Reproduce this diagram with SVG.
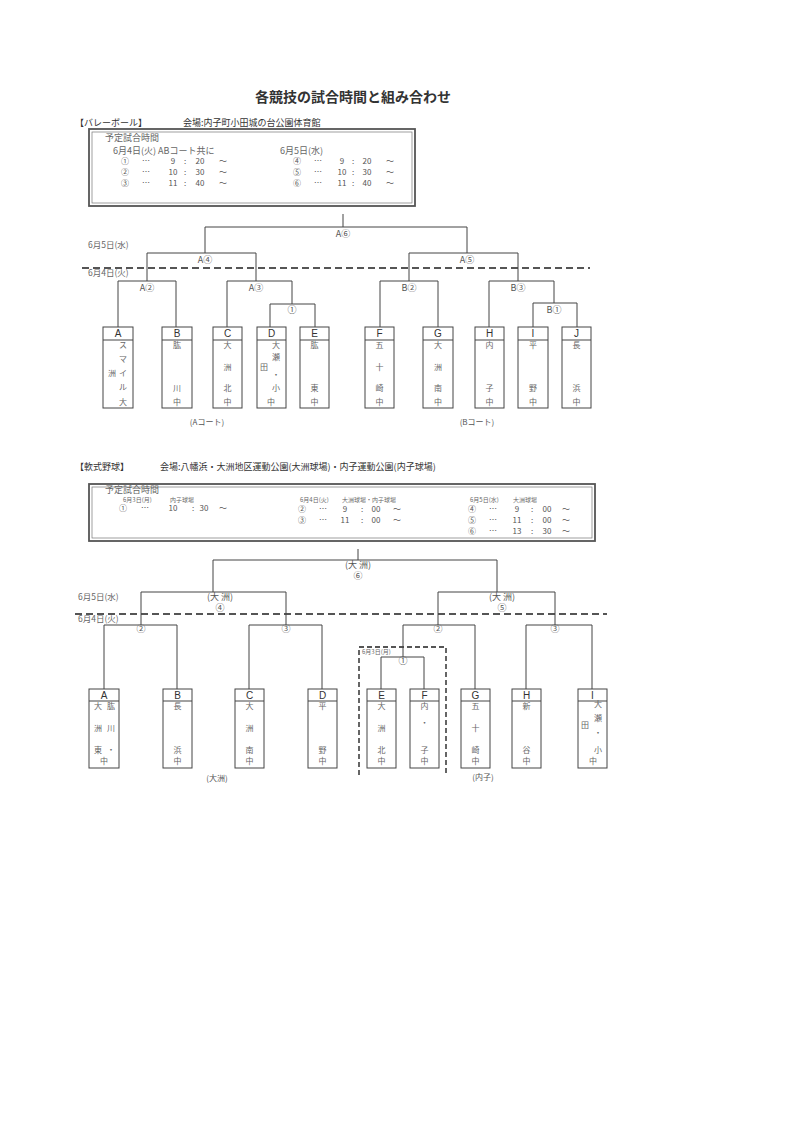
<svg xmlns="http://www.w3.org/2000/svg" width="800" height="1131" viewBox="0 0 800 1131">
<style>
text{font-family:"Noto Sans CJK JP","Noto Sans",sans-serif;fill:#555}
.title{font-size:14px;font-weight:bold;fill:#333}
.hd{font-size:9px;fill:#333}
.sc{font-size:9px;fill:#666}
.nm{font-size:8px;fill:#666}
.sm{font-size:6px;fill:#666}
.lb{font-size:9px;fill:#555;text-anchor:middle}
.dt{font-size:8.5px;fill:#666}
.bx{fill:#fff;stroke:#444;stroke-width:1}
.ltr{font-family:"Liberation Sans",sans-serif;font-size:10px;fill:#333;text-anchor:middle}
.tt{font-size:8px;fill:#666;text-anchor:middle}
.ln{fill:none;stroke:#444;stroke-width:1}
.dash{fill:none;stroke:#555;stroke-width:2;stroke-dasharray:7 4}
.dash2{fill:none;stroke:#555;stroke-width:1.8;stroke-dasharray:5 3}
.frame{fill:none;stroke:#555;stroke-width:1.8}
.frame2{fill:none;stroke:#777;stroke-width:0.7}
</style>
<rect width="800" height="1131" fill="#fff"/>
<text class="title" x="353" y="102" text-anchor="middle">各競技の試合時間と組み合わせ</text>

<!-- Volleyball header -->
<g id="vb-header">
<text class="hd" x="75" y="126">【バレーボール】</text>
<text class="hd" x="183" y="126">会場:内子町小田城の台公園体育館</text>
</g>
<g id="vb-schedule">
<rect class="frame" x="89" y="129" width="326" height="77"/>
<rect class="frame2" x="92" y="132" width="320" height="71"/>
<text class="sc" x="105" y="141">予定試合時間</text>
<text class="sc" x="113" y="154">6月4日(火) ABコート共に</text>
<text class="sc" x="280" y="154">6月5日(水)</text>
<g class="nm" text-anchor="middle">
<text x="125" y="164">①</text><text x="146" y="164">…</text><text x="173" y="164">9</text><text x="185" y="164">:</text><text x="200" y="164">20</text><text x="223" y="164">～</text>
<text x="125" y="175">②</text><text x="146" y="175">…</text><text x="173" y="175">10</text><text x="185" y="175">:</text><text x="200" y="175">30</text><text x="223" y="175">～</text>
<text x="125" y="186">③</text><text x="146" y="186">…</text><text x="173" y="186">11</text><text x="185" y="186">:</text><text x="200" y="186">40</text><text x="223" y="186">～</text>
<text x="297" y="164">④</text><text x="318" y="164">…</text><text x="342" y="164">9</text><text x="353" y="164">:</text><text x="367" y="164">20</text><text x="390" y="164">～</text>
<text x="297" y="175">⑤</text><text x="318" y="175">…</text><text x="342" y="175">10</text><text x="353" y="175">:</text><text x="367" y="175">30</text><text x="390" y="175">～</text>
<text x="297" y="186">⑥</text><text x="318" y="186">…</text><text x="342" y="186">11</text><text x="353" y="186">:</text><text x="367" y="186">40</text><text x="390" y="186">～</text>
</g>
</g>

<g id="vb-dates">
<text class="dt" x="88" y="248">6月5日(水)</text>
<text class="dt" x="88" y="276">6月4日(火)</text>
<line class="dash" x1="82" y1="268" x2="590" y2="268"/>
</g>

<g id="vb-connectors">
<path class="ln" d="M343,214V227"/>
<path class="ln" d="M205,253V227H467V253"/>
<path class="ln" d="M147,281V253H256V281"/>
<path class="ln" d="M118,327V281H176V327"/>
<path class="ln" d="M227,327V281H292V304"/>
<path class="ln" d="M270,327V304H315V327"/>
<path class="ln" d="M409,281V253H518V281"/>
<path class="ln" d="M380,327V281H438V327"/>
<path class="ln" d="M489,327V281H554V303"/>
<path class="ln" d="M533,327V303H577V327"/>
</g>
<g id="vb-labels">
<text class="lb" x="343" y="237">A⑥</text>
<text class="lb" x="205" y="263">A④</text>
<text class="lb" x="467" y="263">A⑤</text>
<text class="lb" x="147" y="291">A②</text>
<text class="lb" x="256" y="291">A③</text>
<text class="lb" x="292" y="313">①</text>
<text class="lb" x="409" y="291">B②</text>
<text class="lb" x="518" y="291">B③</text>
<text class="lb" x="554" y="313">B①</text>
</g>

<g id="vb-A"><rect class="bx" x="103" y="327" width="30" height="81"/><line class="ln" x1="103" y1="340" x2="133" y2="340"/><text class="ltr" x="118" y="337">A</text>
<text class="tt" x="123" y="348">ス</text><text class="tt" x="123" y="362">マ</text><text class="tt" x="123" y="376">イ</text><text class="tt" x="123" y="390">ル</text><text class="tt" x="123" y="405">大</text><text class="tt" x="112" y="376">洲</text></g>
<g id="vb-B"><rect class="bx" x="162" y="327" width="30" height="81"/><line class="ln" x1="162" y1="340" x2="192" y2="340"/><text class="ltr" x="177" y="337">B</text>
<text class="tt" x="177" y="348">肱</text><text class="tt" x="177" y="391">川</text><text class="tt" x="177" y="405">中</text></g>
<g id="vb-C"><rect class="bx" x="213" y="327" width="29" height="81"/><line class="ln" x1="213" y1="340" x2="242" y2="340"/><text class="ltr" x="227.5" y="337">C</text>
<text class="tt" x="227.5" y="348">大</text><text class="tt" x="227.5" y="370">洲</text><text class="tt" x="227.5" y="391">北</text><text class="tt" x="227.5" y="405">中</text></g>
<g id="vb-D"><rect class="bx" x="257" y="327" width="29" height="81"/><line class="ln" x1="257" y1="340" x2="286" y2="340"/><text class="ltr" x="271.5" y="337">D</text>
<text class="tt" x="276" y="348">大</text><text class="tt" x="276" y="360">瀬</text><text class="tt" x="264" y="370">田</text><text class="tt" x="276" y="378">・</text><text class="tt" x="276" y="391">小</text><text class="tt" x="271" y="405">中</text></g>
<g id="vb-E"><rect class="bx" x="300" y="327" width="29" height="81"/><line class="ln" x1="300" y1="340" x2="329" y2="340"/><text class="ltr" x="314.5" y="337">E</text>
<text class="tt" x="314.5" y="348">肱</text><text class="tt" x="314.5" y="391">東</text><text class="tt" x="314.5" y="405">中</text></g>
<g id="vb-F"><rect class="bx" x="365" y="327" width="29" height="81"/><line class="ln" x1="365" y1="340" x2="394" y2="340"/><text class="ltr" x="379.5" y="337">F</text>
<text class="tt" x="379.5" y="348">五</text><text class="tt" x="379.5" y="370">十</text><text class="tt" x="379.5" y="391">崎</text><text class="tt" x="379.5" y="405">中</text></g>
<g id="vb-G"><rect class="bx" x="423" y="327" width="30" height="81"/><line class="ln" x1="423" y1="340" x2="453" y2="340"/><text class="ltr" x="438" y="337">G</text>
<text class="tt" x="438" y="348">大</text><text class="tt" x="438" y="370">洲</text><text class="tt" x="438" y="391">南</text><text class="tt" x="438" y="405">中</text></g>
<g id="vb-H"><rect class="bx" x="475" y="327" width="29" height="81"/><line class="ln" x1="475" y1="340" x2="504" y2="340"/><text class="ltr" x="489.5" y="337">H</text>
<text class="tt" x="489.5" y="348">内</text><text class="tt" x="489.5" y="391">子</text><text class="tt" x="489.5" y="405">中</text></g>
<g id="vb-I"><rect class="bx" x="518" y="327" width="30" height="81"/><line class="ln" x1="518" y1="340" x2="548" y2="340"/><text class="ltr" x="533" y="337">I</text>
<text class="tt" x="533" y="348">平</text><text class="tt" x="533" y="391">野</text><text class="tt" x="533" y="405">中</text></g>
<g id="vb-J"><rect class="bx" x="562" y="327" width="29" height="81"/><line class="ln" x1="562" y1="340" x2="591" y2="340"/><text class="ltr" x="576.5" y="337">J</text>
<text class="tt" x="576.5" y="348">長</text><text class="tt" x="576.5" y="391">浜</text><text class="tt" x="576.5" y="405">中</text></g>
<text class="lb" x="207" y="425" style="font-size:8px">(Aコート)</text>
<text class="lb" x="477" y="425" style="font-size:8px">(Bコート)</text>

<!-- Baseball -->
<g id="bb-header">
<text class="hd" x="75" y="470">【軟式野球】</text>
<text class="hd" x="160" y="470">会場:八幡浜・大洲地区運動公園(大洲球場)・内子運動公園(内子球場)</text>
</g>
<g id="bb-schedule">
<rect class="frame" x="89" y="484" width="506" height="57"/>
<rect class="frame2" x="92" y="487" width="500" height="51"/>
<text class="sc" x="105" y="492.5">予定試合時間</text>
<text class="sm" x="123" y="502">6月3日(月)</text><text class="sm" x="170" y="502">内子球場</text>
<text class="sm" x="300" y="502">6月4日(火)</text><text class="sm" x="342" y="502">大洲球場・内子球場</text>
<text class="sm" x="470" y="502">6月5日(水)</text><text class="sm" x="513" y="502">大洲球場</text>
<g class="nm" text-anchor="middle">
<text x="123" y="511">①</text><text x="145" y="511">…</text><text x="173" y="511">10</text><text x="193" y="511">:</text><text x="204" y="511">30</text><text x="223" y="511">～</text>
<text x="302" y="512">②</text><text x="323" y="512">…</text><text x="345" y="512">9</text><text x="362" y="512">:</text><text x="376" y="512">00</text><text x="397" y="512">～</text>
<text x="302" y="523">③</text><text x="323" y="523">…</text><text x="345" y="523">11</text><text x="362" y="523">:</text><text x="376" y="523">00</text><text x="397" y="523">～</text>
<text x="472" y="512">④</text><text x="493" y="512">…</text><text x="517" y="512">9</text><text x="532" y="512">:</text><text x="547" y="512">00</text><text x="566" y="512">～</text>
<text x="472" y="523">⑤</text><text x="493" y="523">…</text><text x="517" y="523">11</text><text x="532" y="523">:</text><text x="547" y="523">00</text><text x="566" y="523">～</text>
<text x="472" y="534">⑥</text><text x="493" y="534">…</text><text x="517" y="534">13</text><text x="532" y="534">:</text><text x="547" y="534">30</text><text x="566" y="534">～</text>
</g>
</g>

<g id="bb-dates">
<text class="dt" x="78" y="600">6月5日(水)</text>
<text class="dt" x="78" y="622">6月4日(火)</text>
<line class="dash" x1="75" y1="614" x2="607" y2="614"/>
</g>
<g id="bb-day3">
<path class="dash2" d="M359,775V647H446V775"/>
<text class="sm" x="362" y="654">6月3日(月)</text>
</g>

<g id="bb-connectors">
<path class="ln" d="M358,549V560"/>
<path class="ln" d="M213,592V560H497V592"/>
<path class="ln" d="M141,625V592H286V625"/>
<path class="ln" d="M104,689V625H177V689"/>
<path class="ln" d="M249,689V625H322V689"/>
<path class="ln" d="M438,625V592H555V625"/>
<path class="ln" d="M403,657V625H475V689"/>
<path class="ln" d="M381,689V657H424V689"/>
<path class="ln" d="M526,689V625H592V689"/>
</g>
<g id="bb-labels">
<text class="lb" x="358" y="568">(大 洲)</text>
<text class="lb" x="358" y="579">⑥</text>
<text class="lb" x="220" y="600">(大 洲)</text>
<text class="lb" x="220" y="611">④</text>
<text class="lb" x="502" y="600">(大 洲)</text>
<text class="lb" x="502" y="611">⑤</text>
<text class="lb" x="141" y="632">②</text>
<text class="lb" x="286" y="632">③</text>
<text class="lb" x="438" y="632">②</text>
<text class="lb" x="555" y="632">③</text>
<text class="lb" x="403" y="664">①</text>
</g>

<g id="bb-A"><rect class="bx" x="89" y="689" width="30" height="79"/><line class="ln" x1="89" y1="701" x2="119" y2="701"/><text class="ltr" x="104" y="699">A</text>
<text class="tt" x="98" y="709">大</text><text class="tt" x="111" y="709">肱</text><text class="tt" x="98" y="731">洲</text><text class="tt" x="111" y="731">川</text><text class="tt" x="98" y="753">東</text><text class="tt" x="111" y="753">・</text><text class="tt" x="104" y="764">中</text></g>
<g id="bb-B"><rect class="bx" x="163" y="689" width="29" height="79"/><line class="ln" x1="163" y1="701" x2="192" y2="701"/><text class="ltr" x="177.5" y="699">B</text>
<text class="tt" x="177.5" y="709">長</text><text class="tt" x="177.5" y="753">浜</text><text class="tt" x="177.5" y="764">中</text></g>
<g id="bb-C"><rect class="bx" x="235" y="689" width="29" height="79"/><line class="ln" x1="235" y1="701" x2="264" y2="701"/><text class="ltr" x="249.5" y="699">C</text>
<text class="tt" x="249.5" y="709">大</text><text class="tt" x="249.5" y="731">洲</text><text class="tt" x="249.5" y="753">南</text><text class="tt" x="249.5" y="764">中</text></g>
<g id="bb-D"><rect class="bx" x="308" y="689" width="29" height="79"/><line class="ln" x1="308" y1="701" x2="337" y2="701"/><text class="ltr" x="322.5" y="699">D</text>
<text class="tt" x="322.5" y="709">平</text><text class="tt" x="322.5" y="753">野</text><text class="tt" x="322.5" y="764">中</text></g>
<g id="bb-E"><rect class="bx" x="367" y="689" width="29" height="79"/><line class="ln" x1="367" y1="701" x2="396" y2="701"/><text class="ltr" x="381.5" y="699">E</text>
<text class="tt" x="381.5" y="709">大</text><text class="tt" x="381.5" y="731">洲</text><text class="tt" x="381.5" y="753">北</text><text class="tt" x="381.5" y="764">中</text></g>
<g id="bb-F"><rect class="bx" x="410" y="689" width="29" height="79"/><line class="ln" x1="410" y1="701" x2="439" y2="701"/><text class="ltr" x="424.5" y="699">F</text>
<text class="tt" x="424.5" y="709">内</text><text class="tt" x="424.5" y="726">・</text><text class="tt" x="424.5" y="753">子</text><text class="tt" x="424.5" y="764">中</text></g>
<g id="bb-G"><rect class="bx" x="461" y="689" width="29" height="79"/><line class="ln" x1="461" y1="701" x2="490" y2="701"/><text class="ltr" x="475.5" y="699">G</text>
<text class="tt" x="475.5" y="709">五</text><text class="tt" x="475.5" y="731">十</text><text class="tt" x="475.5" y="753">崎</text><text class="tt" x="475.5" y="764">中</text></g>
<g id="bb-H"><rect class="bx" x="512" y="689" width="29" height="79"/><line class="ln" x1="512" y1="701" x2="541" y2="701"/><text class="ltr" x="526.5" y="699">H</text>
<text class="tt" x="526.5" y="709">新</text><text class="tt" x="526.5" y="753">谷</text><text class="tt" x="526.5" y="764">中</text></g>
<g id="bb-I"><rect class="bx" x="578" y="689" width="29" height="79"/><line class="ln" x1="578" y1="701" x2="607" y2="701"/><text class="ltr" x="592.5" y="699">I</text>
<text class="tt" x="598" y="707">大</text><text class="tt" x="598" y="721">瀬</text><text class="tt" x="585" y="728">田</text><text class="tt" x="598" y="736">・</text><text class="tt" x="598" y="753">小</text><text class="tt" x="593" y="764">中</text></g>
<text class="lb" x="217" y="781" style="font-size:8px">(大洲)</text>
<text class="lb" x="483" y="780" style="font-size:8px">(内子)</text>
</svg>
